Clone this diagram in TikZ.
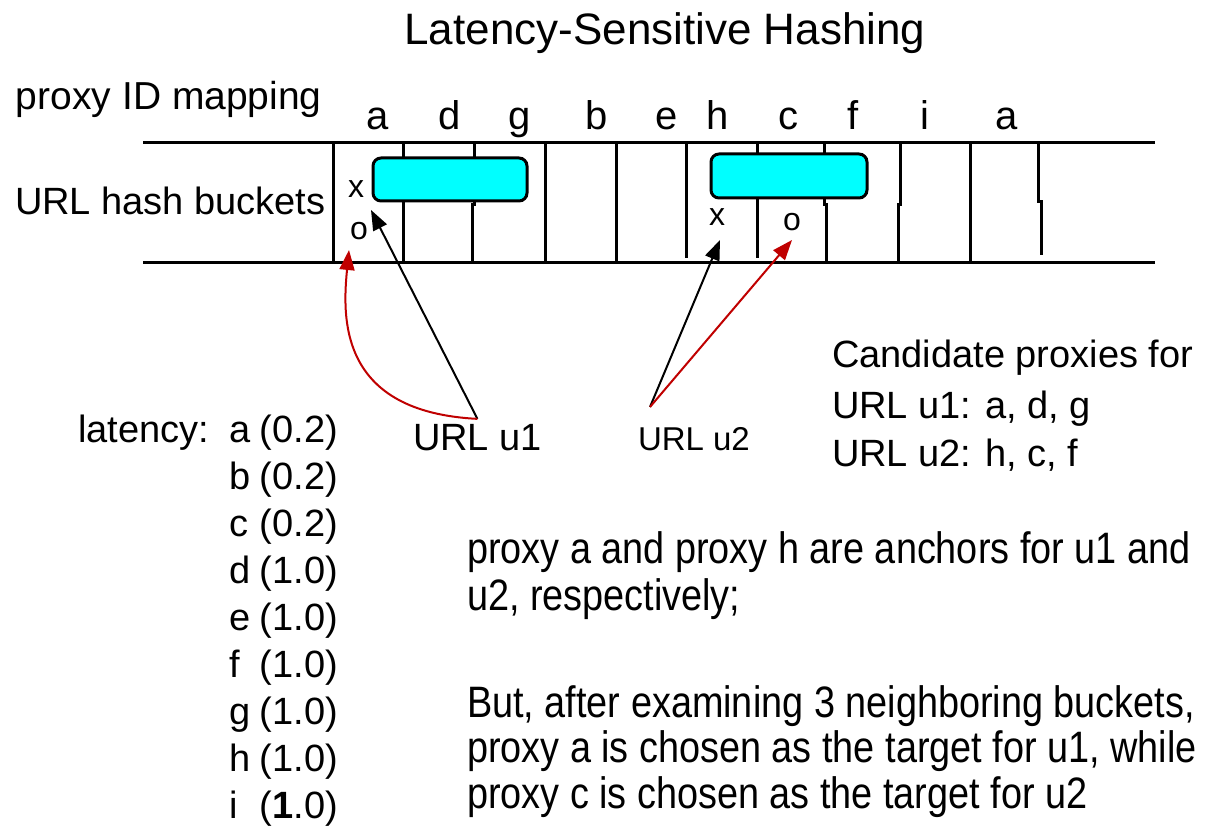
\documentclass[tikz,border=0pt]{standalone}
\usepackage{fontspec}
\setmainfont{Liberation Sans}
\newfontfamily\condfont[FakeStretch=0.86]{Liberation Sans}
\usetikzlibrary{arrows.meta}
\definecolor{LSH-CYAN}{RGB}{0,255,255}
\definecolor{LSH-RED}{RGB}{192,0,0}

\begin{document}
\begin{tikzpicture}[x=1pt, y=-1pt,
    every node/.style={inner sep=0pt, outer sep=0pt},
    txt/.style={font=\fontsize{38}{38}\selectfont, anchor=base west},
    proxyid/.style={font=\fontsize{40}{40}\selectfont, anchor=base},
    slotmark/.style={font=\fontsize{32}{32}\selectfont},
    para/.style={font=\condfont\fontsize{44}{44}\selectfont, anchor=base west},
    bucket/.style={line width=3pt},
    window/.style={draw, fill=LSH-CYAN, line width=3pt, rounded corners=8pt},
    anchorarrow/.style={black, line width=2pt, -{Triangle[length=20pt,width=15pt]}},
    pickarrow/.style={LSH-RED, line width=2pt, -{Triangle[length=20pt,width=15pt]}}]
  \fill[white] (0,0) rectangle (1209,834);
  \useasboundingbox (0,0) rectangle (1209,834);

  % Title
  \node[anchor=base, font=\fontsize{44}{44}\selectfont] (title) at (665,45) {Latency-Sensitive Hashing};

  % Proxy IDs above the buckets
  \node[txt, font=\fontsize{39}{39}\selectfont] (idmap) at (16,110) {proxy ID mapping};
  \foreach \x/\p [count=\i] in {378/a, 450/d, 520/g, 597/b, 667/e, 718/h, 788/c, 853/f, 925/i, 1007/a}
    \node[proxyid] (id\i) at (\x,130) {\p};

  % Hash bucket strip
  \node[txt] (hashlbl) at (15,215) {URL hash buckets};
  \draw[bucket] (143,143) -- (1155,143);
  \draw[bucket] (143,262) -- (1155,262);
  \foreach \xa/\xb/\yj/\ye in {333/333/200/262, 403/403/200/262, 474/472/205/262,
      545/545/200/262, 616/616/200/262, 686/686/200/258, 757/757/200/258,
      824/826/205/262, 900/898/205/262, 970/970/200/262, 1038/1041/202/255}
    \draw[bucket] (\xa,143) -- (\xa,\yj) -- (\xb,\yj) -- (\xb,\ye);

  % Neighbour windows
  \node[window, minimum width=154pt, minimum height=43pt] (win1) at (450,179.5) {};
  \node[window, minimum width=156pt, minimum height=44pt] (win2) at (789,176) {};

  % Anchor (x) and chosen (o) marks
  \node[slotmark] (x1) at (356,189) {x};
  \node[slotmark] (o1) at (359,231) {o};
  \node[slotmark] (x2) at (717,217) {x};
  \node[slotmark] (o2) at (792,222) {o};

  % URLs
  \node[txt] (u1) at (413,450) {URL u1};
  \node[txt, font=\fontsize{33}{33}\selectfont] (u2) at (638,450) {URL u2};
  \coordinate (u1src) at ([yshift=5pt]u1.north);
  \coordinate (u2src) at ([xshift=12pt,yshift=20pt]u2.north west);
  \coordinate (hitA) at (371,210);
  \coordinate (pickA) at (349,250);
  \coordinate (hitH) at (720,240);
  \coordinate (pickC) at (792,240);

  \draw[anchorarrow] (u1src) -- (hitA);
  \draw[pickarrow] (u1src) .. controls (340,412) and (342,320) .. (pickA);
  \draw[anchorarrow] (u2src) -- (hitH);
  \draw[pickarrow] (u2src) -- (pickC);

  % Latency table
  \node[txt] (lat) at (78,442) {latency:};
  \foreach \p/\v [count=\i from 0] in {a/0.2, b/0.2, c/0.2, d/1.0, e/1.0, f/1.0, g/1.0, h/1.0}
    \node[txt] (lat\p) at (229,442+47*\i) {\makebox[31pt][l]{\p}(\v)};
  \node[txt] (lati) at (229,818) {\makebox[31pt][l]{i}(\textbf{1}.0)};

  % Candidate proxies
  \node[txt] (cand) at (832,367) {Candidate proxies for};
  \node[txt] (cand1) at (832,418) {URL u1: a, d, g};
  \node[txt] (cand2) at (832,466) {URL u2: h, c, f};

  % Explanation
  \node[para] (note1) at (467,563) {proxy a and proxy h are anchors for u1 and};
  \node[para] (note2) at (467,610) {u2, respectively;};
  \node[para] (note3) at (467,717) {But, after examining 3 neighboring buckets,};
  \node[para] (note4) at (467,762) {proxy a is chosen as the target for u1, while};
  \node[para] (note5) at (467,808) {proxy c is chosen as the target for u2};
\end{tikzpicture}
\end{document}
